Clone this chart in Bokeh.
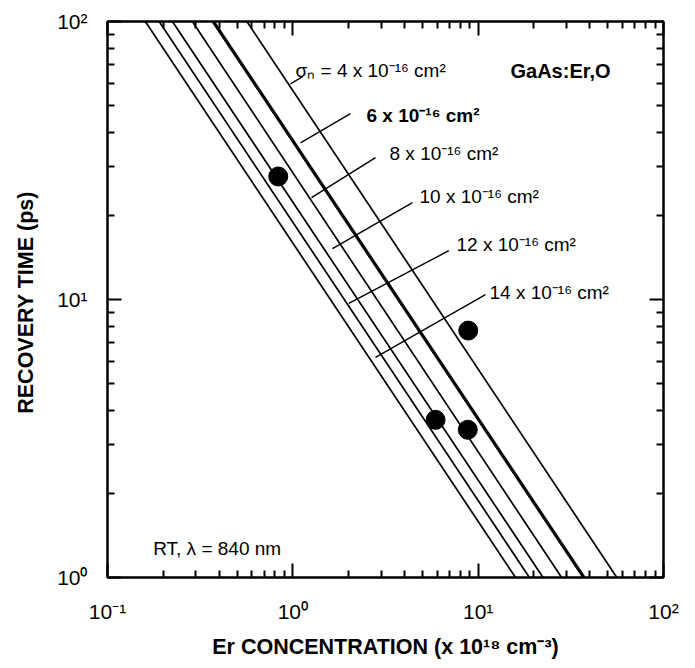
from bokeh.plotting import figure
from bokeh.models import ColumnDataSource, LogAxis, FixedTicker, CustomJSTickFormatter
from bokeh.core.properties import value
from bokeh.embed import file_html
from bokeh.resources import INLINE

# ---- data ----
sigma_labels = ["σₙ = 4 x 10⁻¹⁶ cm²", "6 x 10⁻¹⁶ cm²", "8 x 10⁻¹⁶ cm²",
                "10 x 10⁻¹⁶ cm²", "12 x 10⁻¹⁶ cm²", "14 x 10⁻¹⁶ cm²"]
sigma_values = [4, 6, 8, 10, 12, 14]
# Er concentration (1e18 cm^-3) where each line crosses 100 ps and 1 ps
er_at_100ps = [0.565, 0.372, 0.287, 0.224, 0.190, 0.160]
er_at_1ps = [56.0, 37.2, 28.2, 22.4, 18.9, 15.9]

# measured points
er_conc = [0.834, 8.84, 5.89, 8.79]
recovery_ps = [27.7, 7.73, 3.69, 3.40]

# label anchors (data coordinates) and leader lines
label_x = [1.034, 2.497, 3.324, 4.826, 7.64, 11.51]
label_y = [66.5, 45.8, 33.45, 23.43, 15.75, 10.58]
leader_x0 = [0.9715, 1.100, 1.261, 1.637, 2.004, 2.793]
leader_y0 = [59.7, 36.6, 23.24, 15.23, 9.69, 6.194]
leader_x1 = [1.128, 2.047, 2.793, 4.422, 6.943, 10.95]
leader_y1 = [63.3, 46.6, 32.36, 22.30, 14.98, 10.41]

x_major = [0.1, 1, 10, 100]
x_minor = [0.2, 0.3, 0.4, 0.5, 0.6, 0.7, 0.8, 0.9,
           2, 3, 4, 5, 6, 7, 8, 9, 20, 30, 40, 50, 60, 70, 80, 90]
x_tick_labels = {0.1: "10⁻¹", 1: "10⁰", 10: "10¹", 100: "10²"}
y_major = [1, 10, 100]
y_minor = [2, 3, 4, 5, 6, 7, 8, 9, 20, 30, 40, 50, 60, 70, 80, 90]
y_tick_labels = {1: "10⁰", 10: "10¹", 100: "10²"}

FONT = "Liberation Sans"

p = figure(x_axis_type="log", y_axis_type="log",
           x_range=(0.1, 100), y_range=(1, 100),
           frame_width=556, frame_height=556,
           min_border_left=107, min_border_right=29,
           min_border_top=21, min_border_bottom=88,
           output_backend="svg", toolbar_location=None)
p.xgrid.visible = False
p.ygrid.visible = False
p.outline_line_color = "black"
p.outline_line_width = 2
p.background_fill_color = "white"
p.border_fill_color = "white"

def style_axis(ax, major, minor, labels=None):
    ax.ticker = FixedTicker(ticks=major, minor_ticks=minor)
    ax.axis_line_width = 2
    ax.axis_line_color = "black"
    ax.major_tick_in = 14
    ax.major_tick_out = 0
    ax.minor_tick_in = 7
    ax.minor_tick_out = 0
    ax.major_tick_line_width = 2
    ax.minor_tick_line_width = 2
    ax.major_tick_line_color = "black"
    ax.minor_tick_line_color = "black"
    if labels is not None:
        ax.major_label_overrides = labels
        ax.major_label_text_font = FONT
        ax.major_label_text_font_size = "21px"
        ax.major_label_text_color = "black"
    else:
        ax.formatter = CustomJSTickFormatter(code="return '';")
        ax.major_label_text_font_size = "2px"
        ax.major_label_standoff = 0

xb = p.xaxis[0]
style_axis(xb, x_major, x_minor, x_tick_labels)
xb.major_label_standoff = 22
xb.axis_label = "Er CONCENTRATION (x 10¹⁸ cm⁻³)"
xb.axis_label_text_font = FONT
xb.axis_label_text_font_style = "bold"
xb.axis_label_text_font_size = "21.5px"
xb.axis_label_text_color = "black"
xb.axis_label_standoff = 9

yl = p.yaxis[0]
style_axis(yl, y_major, y_minor, y_tick_labels)
yl.major_label_standoff = 20
yl.axis_label = "RECOVERY TIME  (ps)"
yl.axis_label_text_font = FONT
yl.axis_label_text_font_style = "bold"
yl.axis_label_text_font_size = "21.5px"
yl.axis_label_text_color = "black"
yl.axis_label_standoff = 16

xt = LogAxis()
style_axis(xt, x_major, x_minor)
p.add_layout(xt, "above")
yr = LogAxis()
style_axis(yr, y_major, y_minor)
p.add_layout(yr, "right")

# theory lines
line_src = ColumnDataSource(dict(
    x0=er_at_100ps, y0=[100] * len(sigma_values),
    x1=er_at_1ps, y1=[1] * len(sigma_values),
    w=[3.2 if s == 6 else 1.7 for s in sigma_values]))
p.segment("x0", "y0", "x1", "y1", source=line_src, line_color="black", line_width="w")

# leader lines
p.segment(leader_x0, leader_y0, leader_x1, leader_y1, line_color="black", line_width=1.4)

# labels
lab_src = ColumnDataSource(dict(
    x=label_x, y=label_y, text=sigma_labels,
    style=["bold" if s == 6 else "normal" for s in sigma_values]))
p.text("x", "y", text="text", source=lab_src, text_font=value(FONT),
       text_font_size=value("19px"), text_font_style="style",
       text_align="left", text_baseline="alphabetic", text_color="black")

p.text(x=[14.94], y=[66.5], text=["GaAs:Er,O"], text_font=value(FONT),
       text_font_size=value("20px"), text_font_style="bold",
       text_align="left", text_baseline="alphabetic", text_color="black")
p.text(x=[0.1764], y=[1.271], text=["RT, λ = 840 nm"], text_font=value(FONT),
       text_font_size=value("19px"),
       text_align="left", text_baseline="alphabetic", text_color="black")

# data points
p.scatter(er_conc, recovery_ps, size=19, marker="circle", fill_color="black", line_color="black")

open("out.html", "w").write(file_html(p, INLINE))
